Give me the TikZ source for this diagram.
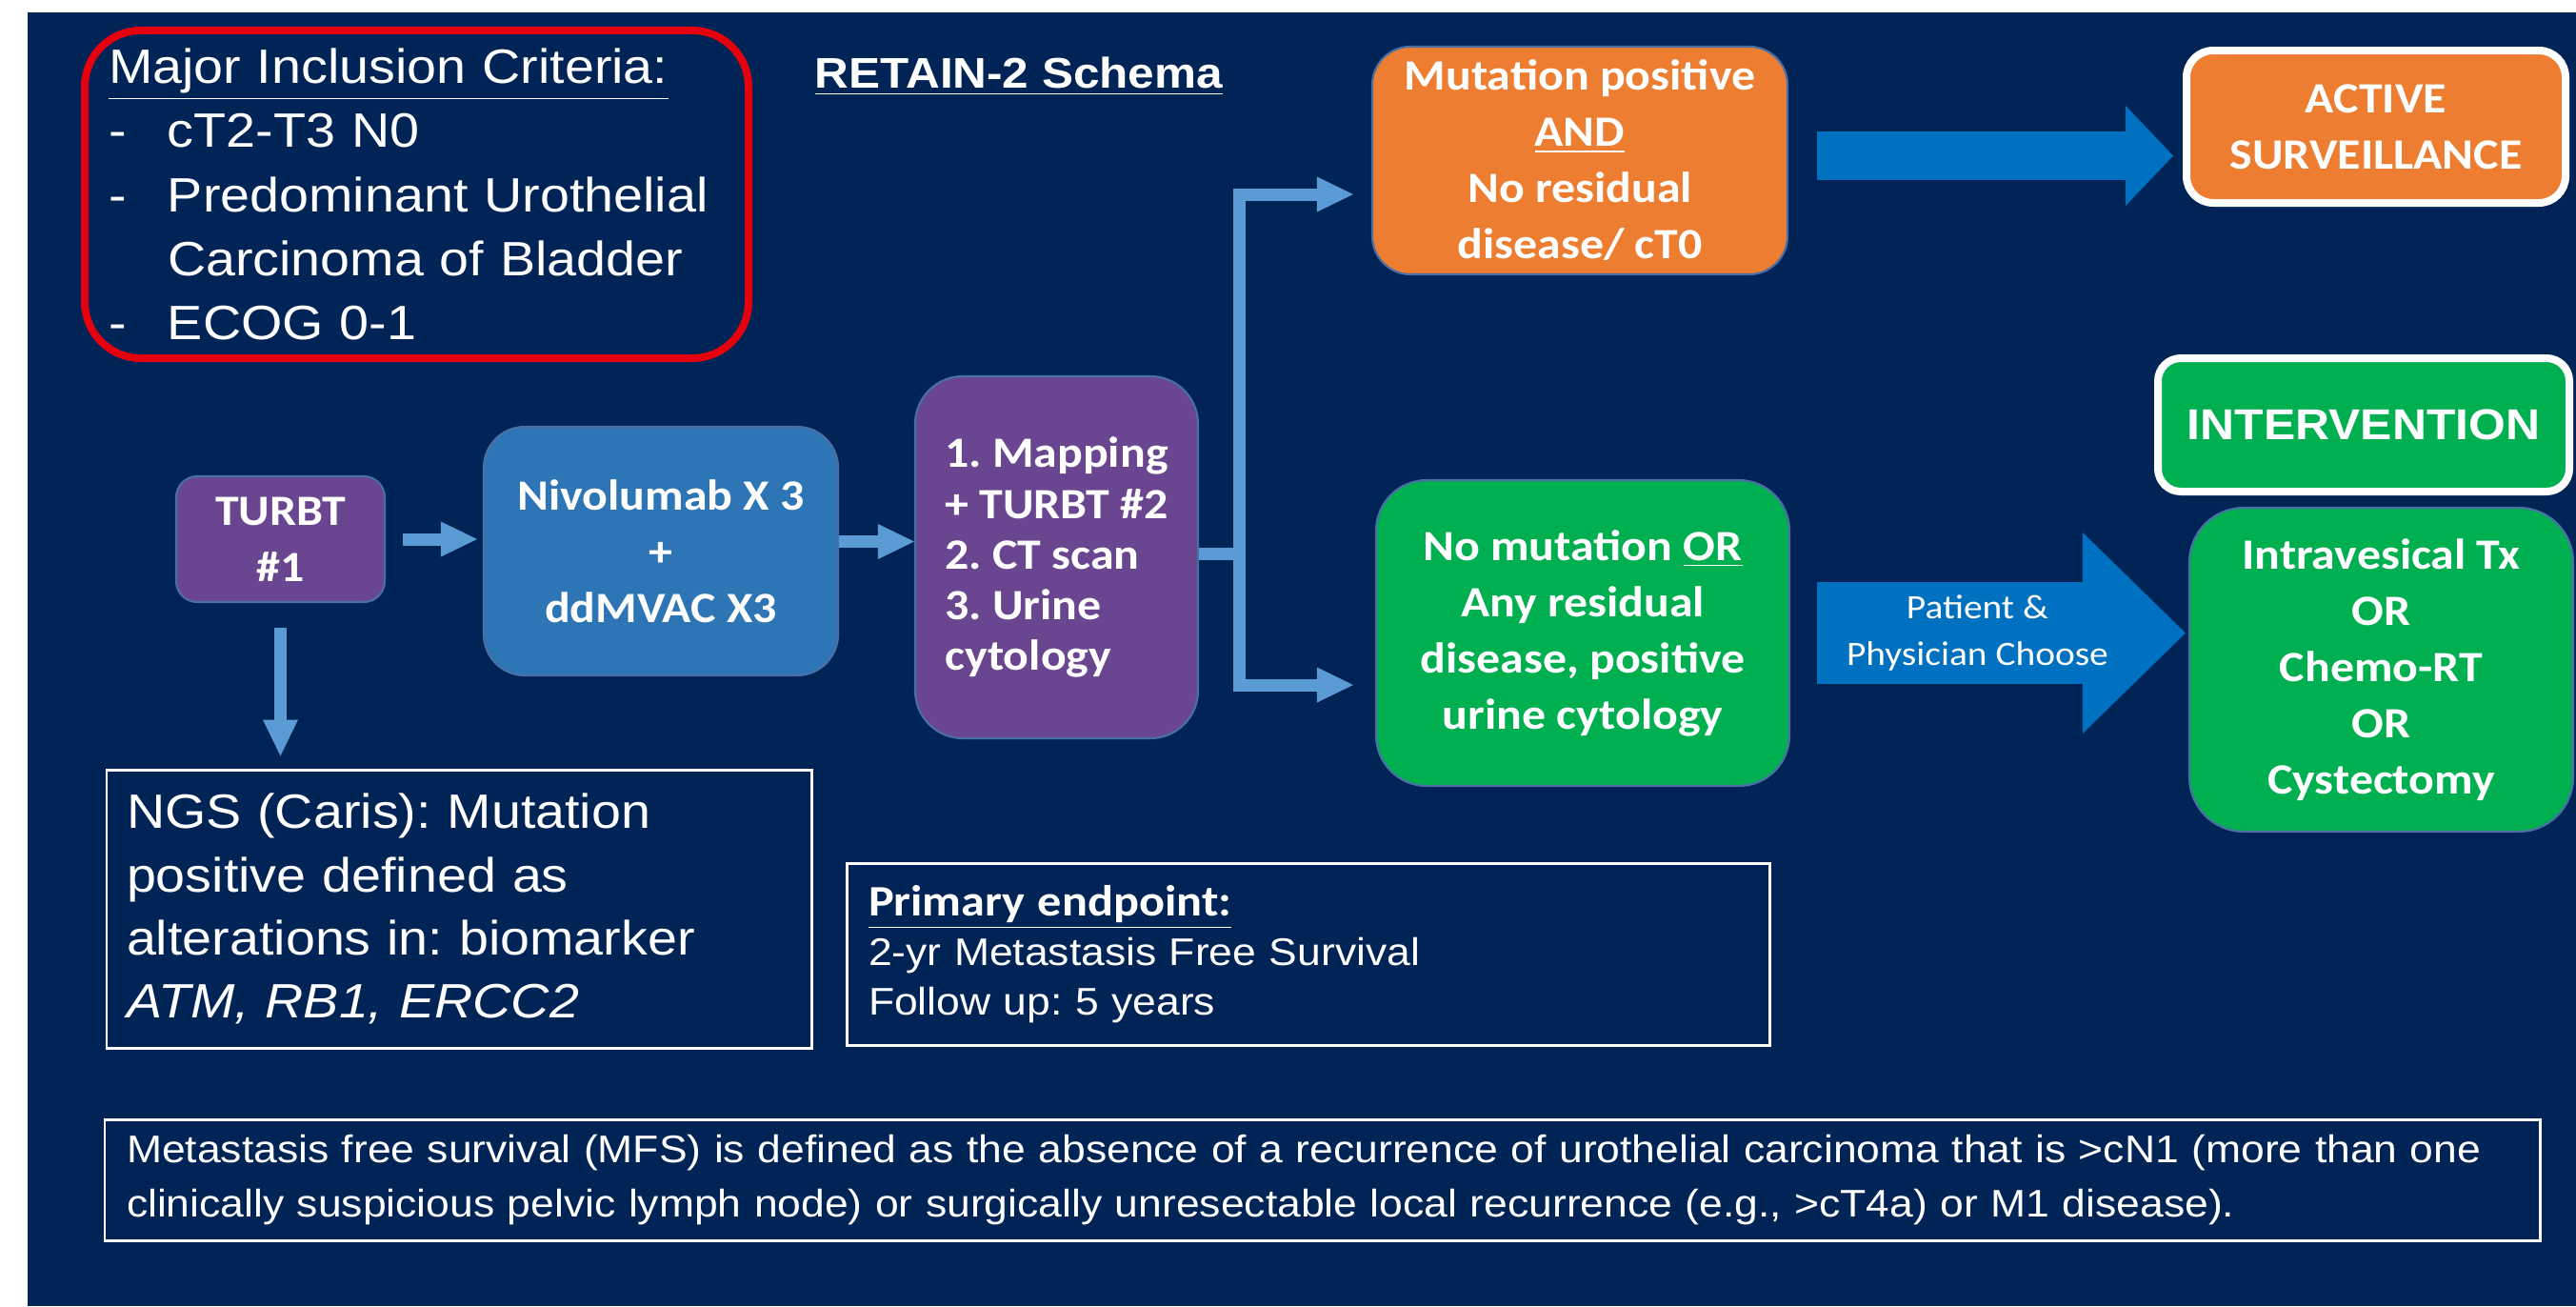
\documentclass[tikz,border=0pt]{standalone}
\usepackage{fontspec}
\setmainfont{Liberation Sans}[FakeStretch=1.1]
\newfontfamily\boxfont{Carlito}[FakeStretch=1.1]
\usetikzlibrary{arrows.meta}
\definecolor{bgnavy}{HTML}{012456}
\definecolor{flowblue}{HTML}{5B9BD5}
\definecolor{fatblue}{HTML}{0070C0}
\definecolor{nivblue}{HTML}{2E75B6}
\definecolor{plum}{HTML}{6A4590}
\definecolor{tangerine}{HTML}{ED7D31}
\definecolor{leaf}{HTML}{00B050}
\definecolor{edgeblue}{HTML}{4A6FA5}
\definecolor{alarm}{HTML}{E3000F}
\newcommand\crit[1]{\makebox[0.62cm][l]{-}#1}
\tikzset{stage/.style={rounded corners=#1, draw=edgeblue, line width=0.6pt, text=white, align=center, inner sep=0pt,
           font=\boxfont\bfseries\fontsize{12.9}{16.8}\selectfont},
         ringed/.style={draw=white, line width=0.08cm},
         note/.style={draw=white, line width=0.85pt, text=white, align=left, inner sep=0pt},
         flow/.style={draw=flowblue, line width=0.13cm, -{Triangle[width=0.37cm,length=0.38cm,line width=0pt]}}}

\begin{document}
\frenchspacing
\begin{tikzpicture}[x=1cm,y=-1cm]
  \useasboundingbox (0,0) rectangle (27.05,13.71);
  \fill[white] (0,0) rectangle (27.05,13.71);
  \fill[bgnavy] (0.29,0.13) rectangle (27.05,13.71);

  % criteria and heading
  \node[draw=alarm, line width=0.08cm, rounded corners=0.59cm, minimum width=6.97cm, minimum height=3.44cm,
        text width=6.47cm, inner sep=0pt, align=left, text=white, font=\fontsize{14.4}{19.1}\selectfont] (incl) at (4.375,2.04)
       {\underline{Major Inclusion Criteria:}\\ \crit{cT2-T3 N0}\\ \crit{Predominant Urothelial}\\
        \hspace*{0.62cm}Carcinoma of Bladder\\ \crit{ECOG 0-1}};
  \node[anchor=base, text=white, font=\bfseries\fontsize{12.8}{15}\selectfont] (title) at (10.70,0.93) {\underline{RETAIN-2 Schema}};

  % treatment path
  \node[stage=0.22cm, fill=plum, minimum width=2.19cm, minimum height=1.32cm] (turbt) at (2.945,5.66) {TURBT\\\#1};
  \node[stage=0.43cm, fill=nivblue, minimum width=3.72cm, minimum height=2.61cm] (niv) at (6.94,5.785) {Nivolumab X 3\\+\\ddMVAC X3};
  \node[stage=0.5cm, fill=plum, minimum width=2.97cm, minimum height=3.80cm, align=left,
        font=\boxfont\bfseries\fontsize{12.9}{15.1}\selectfont] (map) at (11.095,5.85)
       {1. Mapping\\+ TURBT \#2\\2. CT scan\\3. Urine\\cytology};

  % outcomes
  \node[stage=0.40cm, fill=tangerine, minimum width=4.36cm, minimum height=2.39cm] (mut) at (16.59,1.685)
       {Mutation positive\\\underline{AND}\\No residual\\disease/ cT0};
  \node[stage=0.53cm, fill=leaf, minimum width=4.34cm, minimum height=3.21cm] (nomut) at (16.62,6.645)
       {No mutation \underline{OR}\\Any residual\\disease, positive\\urine cytology};
  \node[stage=0.28cm, fill=tangerine, ringed, minimum width=3.98cm, minimum height=1.60cm] (active) at (24.95,1.33)
       {ACTIVE\\SURVEILLANCE};
  \node[stage=0.24cm, fill=leaf, ringed, minimum width=4.32cm, minimum height=1.40cm,
        font=\bfseries\fontsize{12.9}{15}\selectfont] (interv) at (24.82,4.46) {INTERVENTION};
  \node[stage=0.57cm, fill=leaf, minimum width=4.03cm, minimum height=3.40cm] (opts) at (25.005,7.03)
       {Intravesical Tx\\OR\\Chemo-RT\\OR\\Cystectomy};

  % text boxes
  \node[note, minimum width=7.40cm, minimum height=2.92cm, text width=6.98cm, font=\fontsize{14.4}{18.8}\selectfont] (ngs) at (4.82,9.54)
       {NGS (Caris): Mutation\\positive defined as\\alterations in: biomarker\\\textit{ATM, RB1, ERCC2}};
  \node[note, minimum width=9.69cm, minimum height=1.91cm, text width=9.23cm, font=\fontsize{11.5}{14.8}\selectfont] (endpt) at (13.735,10.015)
       {{\boxfont\bfseries\fontsize{13}{14.8}\selectfont\underline{Primary endpoint:}}\\2-yr Metastasis Free Survival\\Follow up: 5 years};
  \node[note, minimum width=25.57cm, minimum height=1.27cm, text width=25.11cm, font=\fontsize{11.5}{16.2}\selectfont] (mfs) at (13.885,12.385)
       {Metastasis free survival (MFS) is defined as the absence of a recurrence of urothelial carcinoma that is >cN1 (more than one\\
        clinically suspicious pelvic lymph node) or surgically unresectable local recurrence (e.g., >cT4a) or M1 disease).};

  % connectors
  \draw[flow, shorten <=0.18cm, shorten >=0.06cm] (turbt.east) -- (turbt.east -| niv.west);
  \draw[flow] ([yshift=1mm]niv.east) -- ([yshift=1mm]niv.east -| map.west);
  \draw[flow, shorten <=0.26cm, shorten >=0.13cm] (turbt.south) -- (turbt.south |- ngs.north);
  \coordinate (split) at (13.01,5.81);
  \draw[flow, -] (map.east |- split) -- (split);
  \draw[flow, shorten >=0.19cm] (split) |- ([yshift=-3.55mm]mut.west);
  \draw[flow, shorten >=0.23cm] (split) |- ([yshift=-5.45mm]nomut.west);

  \draw[fatblue, line width=0.51cm, -{Triangle[width=1.05cm,length=0.50cm,line width=0pt]}, shorten <=0.30cm, shorten >=0.10cm]
       ([yshift=0.5mm]mut.east) -- ([yshift=0.5mm]mut.east -| active.west);
  \draw[fatblue, line width=1.07cm, -{Triangle[width=2.11cm,length=1.08cm,line width=0pt]}, shorten <=0.28cm, shorten >=0.03cm]
       (nomut.east) -- (nomut.east -| opts.west)
       node[pos=0.47, text=white, align=center, font=\boxfont\fontsize{10.2}{13.7}\selectfont] (choice) {Patient \&\\Physician Choose};
\end{tikzpicture}
\end{document}
